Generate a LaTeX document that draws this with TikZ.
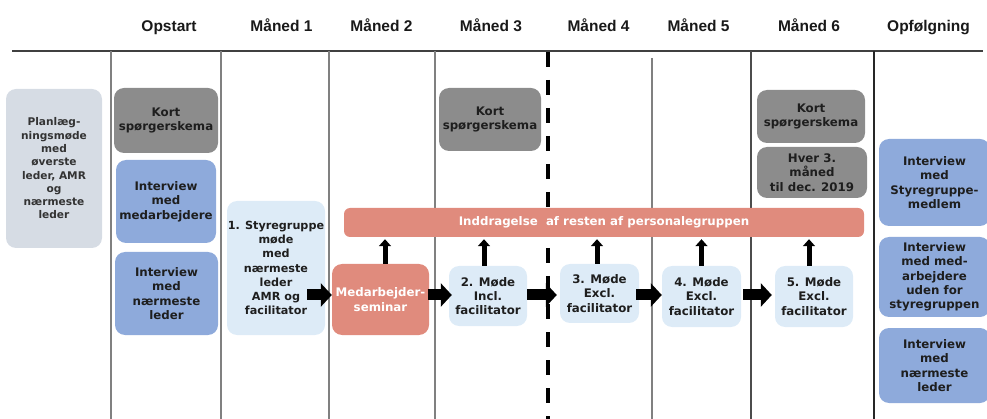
\documentclass[tikz,border=0pt]{standalone}
\usepackage{fontspec}
\setmainfont{Liberation Sans}
\newfontfamily\vfont{DejaVu Sans}
\usetikzlibrary{arrows.meta}
\definecolor{planc}{HTML}{D6DCE4}
\definecolor{grayc}{HTML}{8C8C8C}
\definecolor{bluec}{HTML}{8EAADB}
\definecolor{lightc}{HTML}{DDEBF7}
\definecolor{salmonc}{HTML}{E08B7D}
\definecolor{linec}{HTML}{808080}
\definecolor{txtc}{HTML}{1E1E1E}
\tikzset{
  box/.style={rounded corners=10pt, draw=none, align=center, inner sep=0pt,
    text=txtc, font=\vfont\bfseries\fontsize{11.8}{14.3}\selectfont},
  planbox/.style={box, fill=planc, text=black!80, font=\vfont\bfseries\fontsize{10.6}{13.3}\selectfont},
  graybox/.style={box, fill=grayc},
  bluebox/.style={box, fill=bluec},
  lightbox/.style={box, fill=lightc},
  salmonbox/.style={box, fill=salmonc, text=white},
  header/.style={font=\bfseries\fontsize{15.5}{18}\selectfont, anchor=base, text=black!90},
  vline/.style={draw=linec, line width=1.6pt},
  barrow/.style={line width=11pt, -{Triangle[width=23pt,length=11pt]}, black},
  varrow/.style={line width=5pt, -{Triangle[width=12pt,length=7pt]}, black},
}
\begin{document}
\begin{tikzpicture}[x=1pt,y=-1pt]
\useasboundingbox (0,0) rectangle (987,419);
% headers
\node[header] (h0) at (169,32) {Opstart};
\node[header] (h1) at (281.5,32) {Måned 1};
\node[header] (h2) at (381.5,32) {Måned 2};
\node[header] (h3) at (491,32) {Måned 3};
\node[header] (h4) at (598.5,32) {Måned 4};
\node[header] (h5) at (698.5,32) {Måned 5};
\node[header] (h6) at (809,32) {Måned 6};
\node[header] (h7) at (928.5,32) {Opfølgning};
% grid lines
\draw[draw=black!75, line width=2pt] (12,51) -- (983,51);
\draw[vline] (111,51) -- (111,419);
\draw[vline] (221,51) -- (221,419);
\draw[vline] (329,51) -- (329,419);
\draw[vline] (435,51) -- (435,419);
\draw[vline] (652,58) -- (652,419);
\draw[vline, draw=black!70] (751,51) -- (751,419);
\draw[vline, draw=black!85] (874,51) -- (874,419);
\draw[black, line width=3.6pt, dash pattern=on 15pt off 13pt] (548,52) -- (548,419);
% boxes
\node[planbox, minimum width=96pt, minimum height=159pt] (plan) at (54,168.5)
  {Planlæg-\\ningsmøde\\med\\øverste\\leder, AMR\\og\\nærmeste\\leder};
\node[graybox, minimum width=104pt, minimum height=65pt] (kort1) at (166,120.5)
  {Kort\\spørgerskema};
\node[bluebox, minimum width=100pt, minimum height=83pt] (int1) at (166,201.5)
  {Interview\\med\\medarbejdere};
\node[bluebox, minimum width=103pt, minimum height=83pt] (int2) at (166.5,293.5)
  {Interview\\med\\nærmeste\\leder};
\node[lightbox, minimum width=98pt, minimum height=134pt,
  font=\vfont\bfseries\fontsize{11.2}{14.3}\selectfont] (sty) at (276,268)
  {1. Styregruppe\\møde\\med\\nærmeste\\leder\\AMR og\\facilitator};
\node[graybox, minimum width=102pt, minimum height=63pt] (kort2) at (490,119.5)
  {Kort\\spørgerskema};
\node[salmonbox, minimum width=520pt, minimum height=29pt, rounded corners=6pt] (bar) at (604,222.5)
  {Inddragelse\ \ af resten af personalegruppen};
\node[salmonbox, minimum width=97pt, minimum height=71pt] (sem) at (380.5,299.5)
  {Medarbejder-\\seminar};
\node[lightbox, minimum width=78pt, minimum height=60pt] (m2) at (488,296)
  {2. Møde\\Incl.\\facilitator};
\node[lightbox, minimum width=79pt, minimum height=59pt] (m3) at (599.5,293.5)
  {3. Møde\\Excl.\\facilitator};
\node[lightbox, minimum width=79pt, minimum height=61pt] (m4) at (701.5,296.5)
  {4. Møde\\Excl.\\facilitator};
\node[lightbox, minimum width=78pt, minimum height=61pt] (m5) at (814,296.5)
  {5. Møde\\Excl.\\facilitator};
\node[graybox, minimum width=108pt, minimum height=53pt] (kort3) at (811,116.5)
  {Kort\\spørgerskema};
\node[graybox, minimum width=110pt, minimum height=51pt] (hver) at (812,172.5)
  {Hver 3.\\måned\\til dec. 2019};
\node[bluebox, minimum width=111pt, minimum height=87pt] (i3) at (934.5,182.5)
  {Interview\\med\\Styregruppe-\\medlem};
\node[bluebox, minimum width=111pt, minimum height=80pt] (i4) at (934.5,277)
  {Interview\\med med-\\arbejdere\\uden for\\styregruppen};
\node[bluebox, minimum width=111pt, minimum height=75pt] (i5) at (934.5,365.5)
  {Interview\\med\\nærmeste\\leder};
% horizontal arrows
\coordinate (ar) at (0,295);
\draw[barrow] ([xshift=-18pt]sty.east |- ar) -- (sem.west |- ar);
\draw[barrow] ([xshift=-1pt]sem.east |- ar) -- ([xshift=3pt]m2.west |- ar);
\draw[barrow] (m2.east |- ar) -- ([xshift=-3pt]m3.west |- ar);
\draw[barrow] ([xshift=-3pt]m3.east |- ar) -- (m4.west |- ar);
\draw[barrow] ([xshift=2pt]m4.east |- ar) -- ([xshift=-3pt]m5.west |- ar);
% vertical arrows
\draw[varrow] ([xshift=4.5pt]sem.north) -- ([xshift=4.5pt,yshift=-2pt]sem.north |- bar.south);
\draw[varrow] ([xshift=-4pt]m2.north) -- ([xshift=-4pt,yshift=-2pt]m2.north |- bar.south);
\draw[varrow] ([xshift=-2.5pt]m3.north) -- ([xshift=-2.5pt,yshift=-2pt]m3.north |- bar.south);
\draw[varrow] (m4.north) -- ([yshift=-2pt]m4.north |- bar.south);
\draw[varrow] ([xshift=-5pt]m5.north) -- ([xshift=-5pt,yshift=-2pt]m5.north |- bar.south);
\end{tikzpicture}
\end{document}
